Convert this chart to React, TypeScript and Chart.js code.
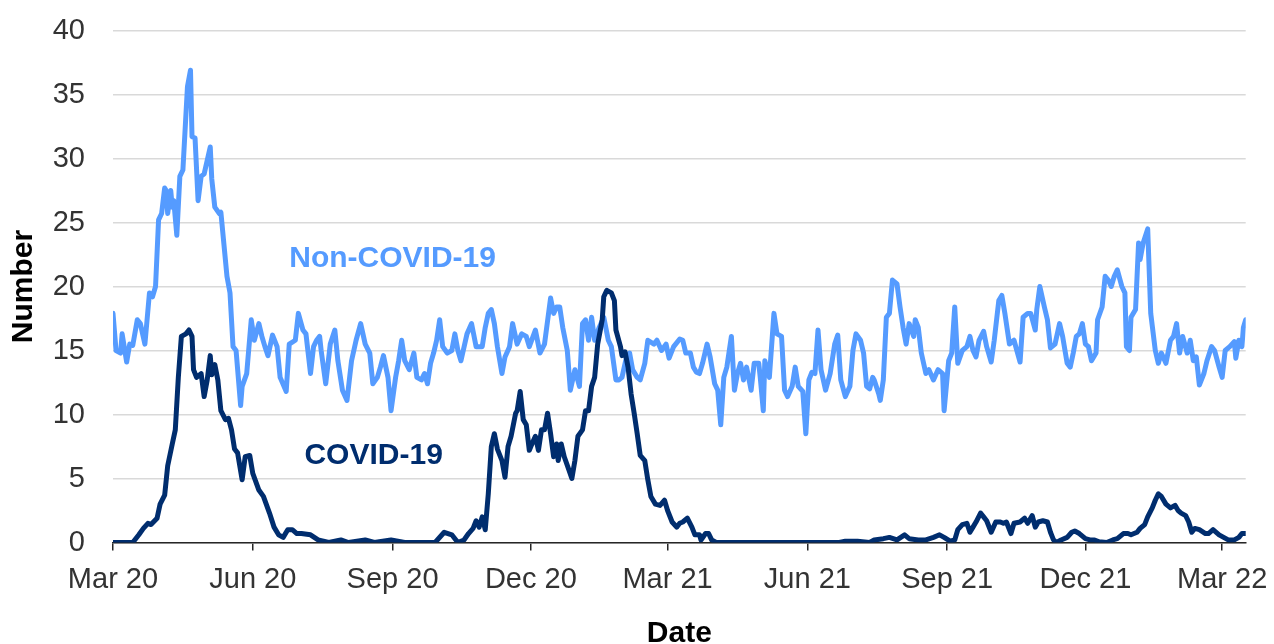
import React, { useEffect, useRef } from 'react';
import { Chart, registerables } from 'chart.js';

Chart.register(...registerables);

const FONT = "Arial, 'Liberation Sans', sans-serif";
const LIGHT = '#559BFF';
const NAVY = '#002D6E';

// x values are days since 1 Mar 2020
const tickDays = [0, 92, 184, 275, 365, 457, 549, 640, 730];
const tickLabels = ['Mar 20', 'Jun 20', 'Sep 20', 'Dec 20', 'Mar 21', 'Jun 21', 'Sep 21', 'Dec 21', 'Mar 22'];
const yTicks = [0, 5, 10, 15, 20, 25, 30, 35, 40];

const nonCovidDays = [
  0, 2, 5, 6, 9, 11, 13, 16, 18, 21, 24, 26, 28, 30, 32, 34, 35, 36, 38, 39, 40, 42, 44, 46, 49, 51, 52, 54, 56, 58,
  60, 64, 65, 67, 70, 71, 75, 77, 79, 81, 84, 85, 88, 91, 93, 96, 98, 100, 102, 105, 108, 110, 114, 116, 120, 122, 125, 127, 130, 132,
  134, 136, 137, 140, 143, 146, 148, 151, 154, 157, 160, 163, 166, 169, 171, 174, 176, 178, 181, 183, 186, 188, 190, 192, 195, 198, 200, 203, 205, 207,
  209, 211, 213, 215, 217, 220, 223, 225, 227, 229, 233, 236, 239, 243, 245, 247, 249, 251, 253, 256, 258, 261, 263, 266, 269, 272, 274, 278, 281, 284,
  288, 290, 292, 294, 296, 299, 301, 304, 307, 309, 311, 313, 315, 317, 320, 323, 326, 328, 331, 333, 335, 338, 340, 342, 345, 347, 350, 352, 356, 358,
  361, 364, 366, 369, 373, 375, 377, 380, 382, 384, 386, 388, 391, 393, 396, 398, 400, 402, 404, 407, 409, 411, 413, 415, 417, 420, 422, 425, 426, 428,
  429, 432, 435, 437, 440, 442, 444, 447, 449, 451, 454, 456, 458, 460, 462, 464, 466, 469, 472, 475, 477, 479, 482, 485, 487, 489, 492, 494, 496, 498,
  500, 501, 504, 505, 507, 509, 511, 513, 516, 518, 520, 522, 524, 527, 528, 530, 532, 535, 537, 540, 543, 546, 547, 550, 552, 554, 556, 559, 562, 564,
  566, 568, 570, 573, 575, 578, 580, 583, 585, 587, 590, 593, 597, 599, 602, 604, 607, 608, 610, 613, 615, 617, 620, 623, 625, 628, 630, 632, 634, 636,
  638, 640, 642, 644, 647, 648, 651, 653, 655, 657, 659, 661, 664, 666, 667, 669, 670, 673, 675, 676, 678, 681, 683, 686, 688, 690, 693, 696, 698, 700,
  702, 704, 707, 709, 711, 713, 715, 718, 720, 723, 725, 728, 730, 732, 735, 738, 739, 741, 743, 744, 745.5,
];
const nonCovidValues = [
  17.9, 15.0, 14.8, 16.3, 14.1, 15.5, 15.4, 17.4, 17.1, 15.5, 19.5, 19.2, 20.0, 25.2, 25.7, 27.7, 27.5, 25.7, 27.5, 26.2, 26.7, 24.0, 28.6, 29.1, 35.6, 36.9, 31.7, 31.6, 26.7, 28.6,
  28.8, 30.9, 28.4, 26.2, 25.7, 25.8, 20.8, 19.5, 15.3, 15.0, 10.7, 12.2, 13.2, 17.4, 15.8, 17.1, 16.1, 15.3, 14.6, 16.2, 15.3, 12.9, 11.8, 15.5, 15.8, 17.9, 16.6, 16.3, 13.2, 15.3,
  15.8, 16.1, 15.0, 12.4, 15.5, 16.6, 14.2, 11.9, 11.1, 14.2, 15.8, 17.1, 15.5, 14.8, 12.4, 12.9, 13.7, 14.6, 12.9, 10.3, 12.9, 14.2, 15.8, 14.2, 13.5, 14.8, 12.9, 12.7, 13.2, 12.4,
  14.0, 14.8, 15.8, 17.4, 15.3, 14.8, 15.0, 16.3, 15.0, 14.2, 16.3, 17.1, 15.3, 15.3, 16.8, 17.9, 18.2, 17.1, 15.3, 13.2, 14.5, 15.3, 17.1, 15.5, 16.3, 16.1, 15.3, 16.6, 14.8, 15.5,
  19.1, 17.9, 18.4, 18.4, 16.8, 15.0, 11.9, 13.5, 12.2, 17.1, 17.4, 15.8, 17.6, 15.8, 16.8, 17.6, 15.8, 15.3, 12.7, 12.7, 12.9, 14.5, 14.8, 13.5, 12.9, 12.7, 14.0, 15.8, 15.5, 15.8,
  15.0, 15.5, 14.4, 15.3, 15.9, 15.8, 14.8, 14.8, 13.7, 13.3, 13.2, 14.0, 15.5, 14.5, 12.4, 11.9, 9.2, 12.9, 13.7, 16.1, 11.9, 13.2, 14.0, 12.7, 13.7, 11.9, 14.0, 14.0, 12.9, 10.3,
  14.2, 12.9, 17.9, 16.3, 16.1, 11.9, 11.4, 12.2, 13.7, 12.2, 11.8, 8.5, 12.7, 13.3, 13.2, 16.6, 13.5, 11.9, 13.2, 15.5, 16.2, 12.7, 11.4, 12.2, 15.0, 16.3, 15.8, 14.8, 12.2, 12.0,
  12.9, 12.7, 11.6, 11.1, 12.7, 17.6, 17.9, 20.5, 20.2, 18.4, 16.8, 15.5, 17.1, 16.1, 17.4, 16.8, 14.8, 13.2, 13.5, 12.7, 13.5, 13.2, 10.3, 14.2, 14.8, 18.4, 14.0, 15.0, 15.3, 16.1,
  15.0, 14.5, 15.8, 16.5, 15.3, 14.1, 15.8, 18.9, 19.3, 17.9, 15.5, 15.8, 14.1, 17.6, 17.9, 17.9, 16.6, 18.2, 20.0, 18.4, 17.4, 15.2, 15.5, 17.1, 16.1, 14.0, 13.7, 14.8, 16.1, 16.3,
  17.1, 15.5, 15.3, 14.2, 14.8, 17.4, 18.4, 20.8, 20.5, 20.0, 20.8, 21.3, 20.0, 19.5, 15.3, 15.0, 17.6, 18.2, 23.4, 22.1, 23.4, 24.5, 17.9, 15.0, 14.0, 14.8, 14.0, 15.8, 16.1, 17.1,
  14.8, 16.1, 14.8, 15.8, 14.2, 14.5, 12.3, 13.2, 14.2, 15.3, 15.0, 13.7, 12.9, 15.0, 15.3, 15.7, 14.4, 15.8, 15.3, 16.8, 17.4,
];

const covidDays = [
  0, 13, 17, 20, 23, 25, 29, 31, 34, 36, 39, 41, 43, 45, 48, 50, 52, 53, 55, 58, 60, 62, 64, 65, 67, 69, 71, 74, 76, 78,
  80, 82, 85, 87, 90, 92, 96, 99, 103, 106, 109, 112, 115, 118, 121, 124, 130, 135, 142, 150, 155, 166, 172, 183, 192, 212, 218, 223, 227, 231,
  234, 237, 239, 241, 243, 245, 247, 249, 251, 253, 256, 258, 260, 262, 265, 266, 268, 270, 272, 274, 275, 278, 280, 282, 284, 286, 288, 290, 292, 293,
  295, 297, 300, 302, 304, 306, 309, 311, 313, 315, 317, 319, 322, 323, 325, 328, 330, 331, 334, 335, 337, 339, 341, 343, 345, 347, 350, 352, 354, 357,
  360, 363, 365, 368, 371, 373, 375, 378, 381, 383, 386, 387, 390, 392, 394, 397, 478, 482, 490, 498, 501, 507, 511, 516, 521, 524, 530, 535, 540, 544,
  547, 551, 554, 556, 559, 562, 564, 566, 568, 571, 573, 575, 578, 581, 584, 586, 588, 591, 593, 597, 600, 602, 605, 607, 609, 612, 615, 617, 619, 621,
  624, 628, 631, 633, 636, 640, 643, 646, 649, 654, 658, 661, 665, 668, 670, 674, 676, 679, 681, 684, 686, 688, 690, 693, 696, 699, 701, 703, 706, 708,
  710, 712, 715, 719, 721, 724, 728, 731, 734, 738, 741, 743, 745.5,
];
const covidValues = [
  0, 0, 0.6, 1.1, 1.5, 1.4, 1.9, 3.0, 3.7, 6.0, 7.7, 8.8, 12.9, 16.1, 16.3, 16.6, 16.1, 13.5, 12.9, 13.2, 11.4, 12.7, 14.6, 13.1, 13.9, 12.7, 10.3, 9.6, 9.7, 8.8,
  7.3, 7.0, 4.9, 6.7, 6.8, 5.4, 4.1, 3.6, 2.3, 1.2, 0.6, 0.4, 1.0, 1.0, 0.7, 0.7, 0.6, 0.2, 0, 0.2, 0, 0.2, 0, 0.2, 0, 0, 0.8, 0.6, 0, 0.2,
  0.7, 1.1, 1.7, 1.2, 2.0, 1.0, 3.8, 7.5, 8.5, 7.3, 6.4, 5.1, 7.5, 8.3, 10.1, 10.3, 11.8, 9.6, 9.2, 7.2, 7.5, 8.3, 7.2, 8.8, 8.8, 10.1, 8.5, 6.7, 7.7, 6.4,
  7.7, 6.7, 5.7, 5.0, 6.4, 8.3, 8.8, 10.3, 10.3, 12.2, 12.9, 15.5, 17.4, 19.2, 19.7, 19.5, 18.9, 16.6, 15.3, 14.6, 14.9, 13.7, 11.6, 10.1, 8.5, 6.8, 6.4, 4.9, 3.6, 3.0,
  2.9, 3.3, 2.5, 1.6, 1.2, 1.5, 1.6, 1.9, 1.2, 0.6, 0.6, 0.2, 0.7, 0.7, 0.2, 0, 0, 0.1, 0.1, 0, 0.2, 0.3, 0.4, 0.2, 0.6, 0.3, 0.2, 0.2, 0.4, 0.6,
  0.4, 0.1, 0.2, 1.0, 1.4, 1.5, 0.8, 1.2, 1.6, 2.3, 2.0, 1.7, 0.8, 1.6, 1.6, 1.5, 1.6, 0.7, 1.5, 1.6, 1.9, 1.5, 2.1, 1.2, 1.6, 1.7, 1.6, 0.8, 0.2, 0,
  0.2, 0.4, 0.8, 0.9, 0.7, 0.3, 0.2, 0.2, 0.05, 0, 0.2, 0.3, 0.7, 0.7, 0.6, 0.8, 1.1, 1.4, 2.0, 2.7, 3.3, 3.8, 3.6, 3.0, 2.7, 2.9, 2.5, 2.3, 2.1, 1.6,
  0.8, 1.1, 1.0, 0.7, 0.7, 1.0, 0.6, 0.4, 0.2, 0.2, 0.4, 0.7, 0.7,
];

// In-chart series labels: text, colour, anchor (day, value) for the left-middle of the text
const seriesLabelTexts = ['Non-COVID-19', 'COVID-19'];
const seriesLabelColors = [LIGHT, NAVY];
const seriesLabelDays = [116, 126];
const seriesLabelValues = [22.2, 6.75];

const X_MAX = 745.5;

const labelPlugin = {
  id: 'seriesLabels',
  afterDatasetsDraw(chart: any) {
    const { ctx, scales } = chart;
    ctx.save();
    ctx.font = `bold 30px ${FONT}`;
    ctx.textAlign = 'left';
    ctx.textBaseline = 'middle';
    seriesLabelTexts.forEach((t, i) => {
      ctx.fillStyle = seriesLabelColors[i];
      ctx.fillText(t, scales.x.getPixelForValue(seriesLabelDays[i]), scales.y.getPixelForValue(seriesLabelValues[i]));
    });
    ctx.restore();
  },
};

export default function App() {
  const ref = useRef<HTMLCanvasElement>(null);
  useEffect(() => {
    const chart = new Chart(ref.current as HTMLCanvasElement, {
      type: 'line',
      data: {
        datasets: [
          {
            label: 'COVID-19',
            data: covidDays.map((d, i) => ({ x: d, y: covidValues[i] })),
            borderColor: NAVY,
            backgroundColor: NAVY,
            borderWidth: 5,
            pointRadius: 0,
            tension: 0,
            borderJoinStyle: 'round',
            borderCapStyle: 'round',
          },
          {
            label: 'Non-COVID-19',
            data: nonCovidDays.map((d, i) => ({ x: d, y: nonCovidValues[i] })),
            borderColor: LIGHT,
            backgroundColor: LIGHT,
            borderWidth: 5,
            pointRadius: 0,
            tension: 0,
            borderJoinStyle: 'round',
            borderCapStyle: 'round',
          },
        ],
      },
      options: {
        responsive: false,
        animation: false,
        events: [],
        layout: { padding: { top: 30.5, right: 28.3, left: 0, bottom: 0 } },
        plugins: { legend: { display: false }, tooltip: { enabled: false } },
        scales: {
          x: {
            type: 'linear',
            min: 0,
            max: X_MAX,
            afterBuildTicks: (s: any) => {
              s.ticks = tickDays.map((v) => ({ value: v }));
            },
            afterFit: (s: any) => {
              s.height = 101.5;
              s.paddingLeft = 0;
              s.paddingRight = 0;
            },
            ticks: {
              autoSkip: false,
              maxRotation: 0,
              padding: 12,
              color: '#333333',
              font: { family: FONT, size: 29 },
              callback: (v: any) => {
                const i = tickDays.indexOf(Number(v));
                return i >= 0 ? tickLabels[i] : '';
              },
            },
            grid: { drawOnChartArea: false, drawTicks: true, tickLength: 8, color: '#262626', lineWidth: 1.5 },
            border: { display: true, color: '#262626', width: 1.5 },
            title: {
              display: true,
              text: 'Date',
              color: '#000000',
              font: { family: FONT, size: 30, weight: 'bold', lineHeight: 1 },
              padding: { top: 0, bottom: -5 },
            },
          },
          y: {
            min: 0,
            max: 40,
            afterBuildTicks: (s: any) => {
              s.ticks = yTicks.map((v) => ({ value: v }));
            },
            afterFit: (s: any) => {
              s.width = 113;
              s.paddingTop = 0;
              s.paddingBottom = 0;
            },
            ticks: {
              padding: 28,
              color: '#333333',
              font: { family: FONT, size: 29 },
            },
            grid: { color: '#d9d9d9', lineWidth: 1.5, drawTicks: false },
            border: { display: false },
            title: {
              display: true,
              text: 'Number',
              color: '#000000',
              font: { family: FONT, size: 30, weight: 'bold', lineHeight: 1.2 },
              padding: { top: 6, bottom: 0 },
            },
          },
        },
      },
      plugins: [labelPlugin],
    } as any);
    return () => chart.destroy();
  }, []);
  return (
    <div style={{ position: 'fixed', left: 0, top: 0, width: 1274, height: 644, background: '#ffffff' }}>
      <canvas ref={ref} width={1274} height={644} style={{ display: 'block' }} />
    </div>
  );
}
